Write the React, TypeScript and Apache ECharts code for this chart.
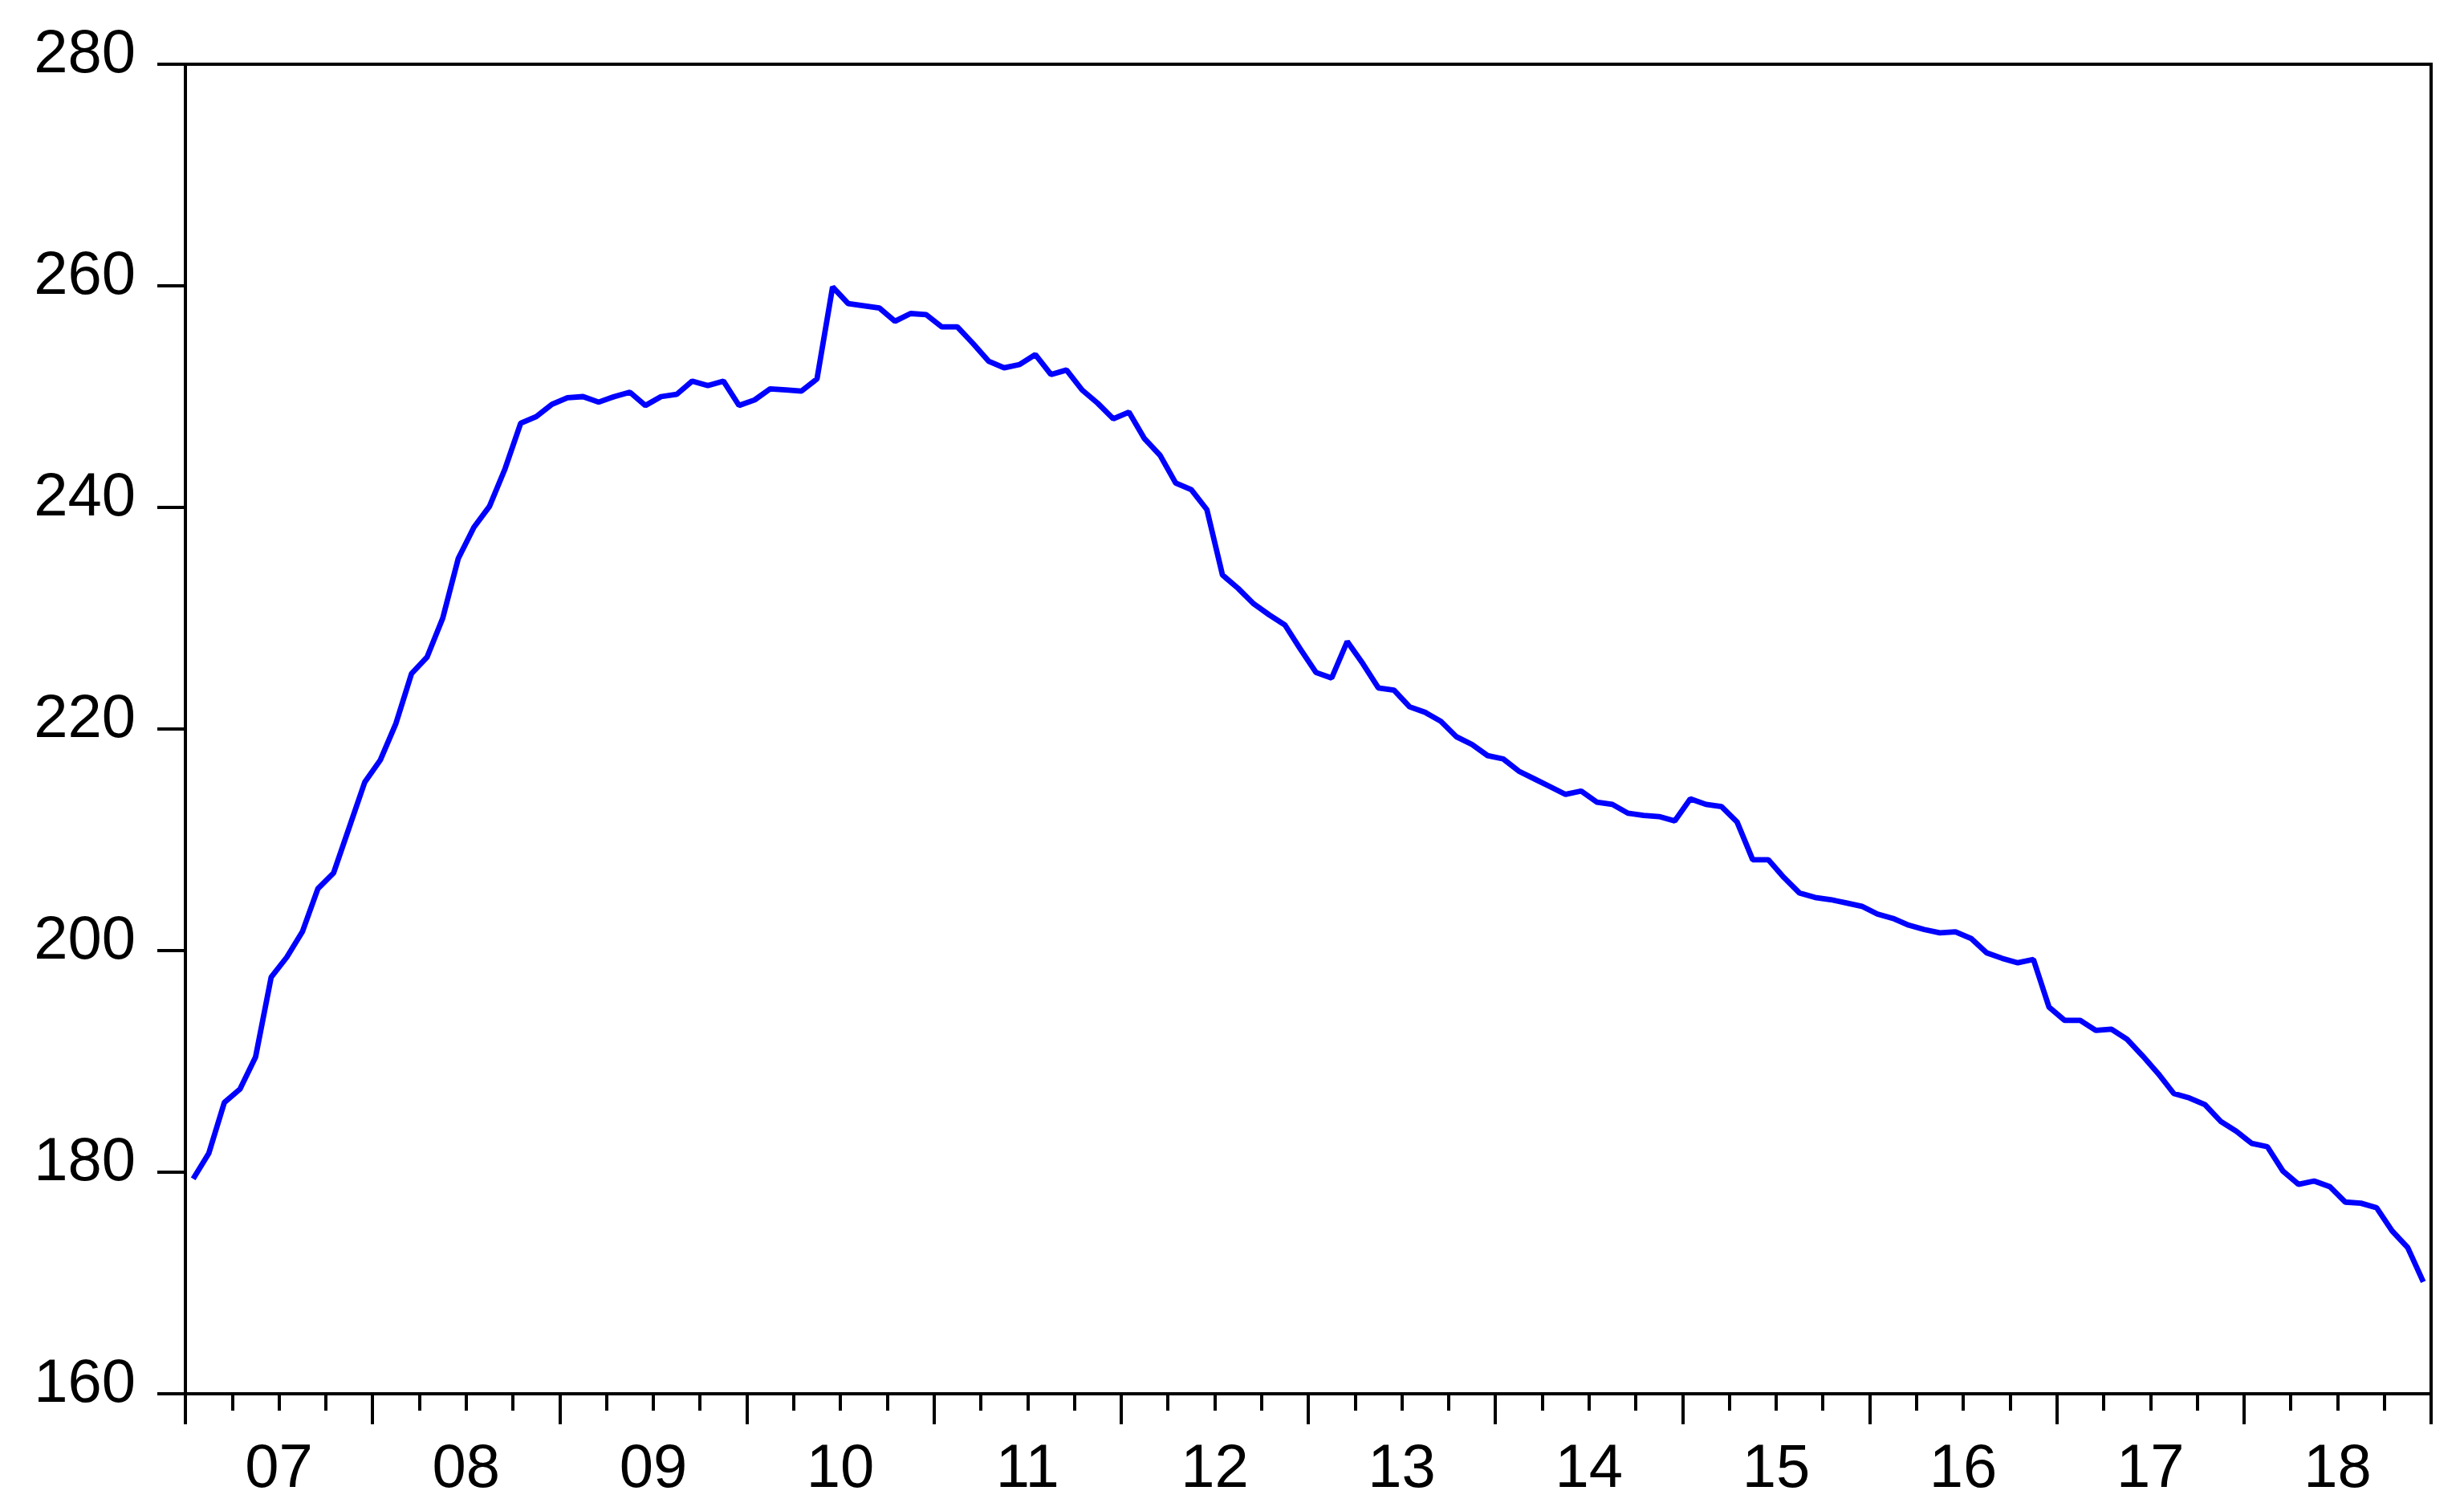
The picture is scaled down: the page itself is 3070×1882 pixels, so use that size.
import React, { useEffect, useRef } from "react";
import * as echarts from "echarts";

// Year tick labels (x axis)
const yearLabels = ["07", "08", "09", "10", "11", "12", "13", "14", "15", "16", "17", "18"];

// Monthly values, Jan..Dec of each year
const v2007 = [179.4, 181.7, 186.3, 187.5, 190.4, 197.6, 199.4, 201.7, 205.6, 207.0, 211.1, 215.2];
const v2008 = [217.2, 220.5, 225.0, 226.5, 230.0, 235.4, 238.2, 240.1, 243.5, 247.6, 248.2, 249.3];
const v2009 = [249.9, 250.0, 249.5, 250.0, 250.4, 249.2, 250.0, 250.2, 251.4, 251.0, 251.4, 249.2];
const v2010 = [249.7, 250.7, 250.6, 250.5, 251.6, 259.9, 258.4, 258.2, 258.0, 256.8, 257.5, 257.4];
const v2011 = [256.3, 256.3, 254.8, 253.2, 252.6, 252.9, 253.8, 252.0, 252.4, 250.6, 249.4, 248.0];
const v2012 = [248.6, 246.2, 244.7, 242.2, 241.6, 239.8, 233.9, 232.7, 231.3, 230.3, 229.4, 227.2];
const v2013 = [225.1, 224.6, 227.9, 225.9, 223.7, 223.5, 222.0, 221.5, 220.7, 219.3, 218.6, 217.6];
const v2014 = [217.3, 216.2, 215.5, 214.8, 214.1, 214.4, 213.4, 213.2, 212.4, 212.2, 212.1, 211.7];
const v2015 = [213.7, 213.2, 213.0, 211.6, 208.2, 208.2, 206.6, 205.2, 204.8, 204.6, 204.3, 204.0];
const v2016 = [203.3, 202.9, 202.3, 201.9, 201.6, 201.7, 201.1, 199.8, 199.3, 198.9, 199.2, 194.9];
const v2017 = [193.7, 193.7, 192.8, 192.9, 192.0, 190.5, 188.9, 187.1, 186.7, 186.1, 184.6, 183.7];
const v2018 = [182.6, 182.3, 180.1, 178.9, 179.2, 178.7, 177.3, 177.2, 176.8, 174.7, 173.2, 170.1];

const yearly = [v2007, v2008, v2009, v2010, v2011, v2012, v2013, v2014, v2015, v2016, v2017, v2018];

const FONT = "'Liberation Sans', Arial, Helvetica, sans-serif";

export default function App() {
  const ref = useRef<HTMLDivElement>(null);

  useEffect(() => {
    document.body.style.margin = "0";
    if (!ref.current) return;
    const chart = echarts.init(ref.current, null, { renderer: "svg" });

    const values: number[] = ([] as number[]).concat(...yearly);
    const months = values.length;
    const seriesData = values.map((v, i) => [i + 0.5, v]);

    chart.setOption({
      animation: false,
      backgroundColor: "#ffffff",
      textStyle: { fontFamily: FONT },
      grid: {
        show: true,
        left: 231,
        top: 80,
        right: 41,
        bottom: 146,
        borderColor: "#000",
        borderWidth: 4,
        backgroundColor: "transparent",
      },
      xAxis: [
        {
          type: "value",
          min: 0,
          max: months,
          interval: 12,
          position: "bottom",
          axisLine: { show: true, onZero: false, lineStyle: { color: "#000", width: 4 } },
          axisTick: { show: true, length: 38, lineStyle: { color: "#000", width: 4 } },
          minorTick: { show: true, splitNumber: 4, length: 21, lineStyle: { color: "#000", width: 4 } },
          axisLabel: { show: false },
          splitLine: { show: false },
          minorSplitLine: { show: false },
        },
        {
          type: "value",
          min: 0,
          max: months,
          interval: 6,
          position: "bottom",
          axisLine: { show: false, onZero: false },
          axisTick: { show: false },
          splitLine: { show: false },
          axisLabel: {
            show: true,
            margin: 51,
            fontSize: 76,
            color: "#000",
            fontFamily: FONT,
            formatter: (v: number) => {
              const k = Math.round(v);
              if (k % 12 !== 6) return "";
              return yearLabels[(k - 6) / 12] ?? "";
            },
          },
        },
      ],
      yAxis: {
        type: "value",
        min: 160,
        max: 280,
        interval: 20,
        axisLine: { show: true, onZero: false, lineStyle: { color: "#000", width: 4 } },
        axisTick: { show: true, length: 35, lineStyle: { color: "#000", width: 4 } },
        splitLine: { show: false },
        axisLabel: {
          margin: 62,
          fontSize: 76,
          color: "#000",
          fontFamily: FONT,
          verticalAlign: "bottom",
          lineHeight: 34,
        },
      },
      series: [
        {
          type: "line",
          xAxisIndex: 0,
          data: seriesData,
          showSymbol: false,
          symbol: "none",
          lineStyle: { color: "#0000ff", width: 6.8 },
          itemStyle: { color: "#0000ff" },
        },
      ],
    });

    return () => chart.dispose();
  }, []);

  return <div ref={ref} style={{ width: 3070, height: 1882 }} />;
}
